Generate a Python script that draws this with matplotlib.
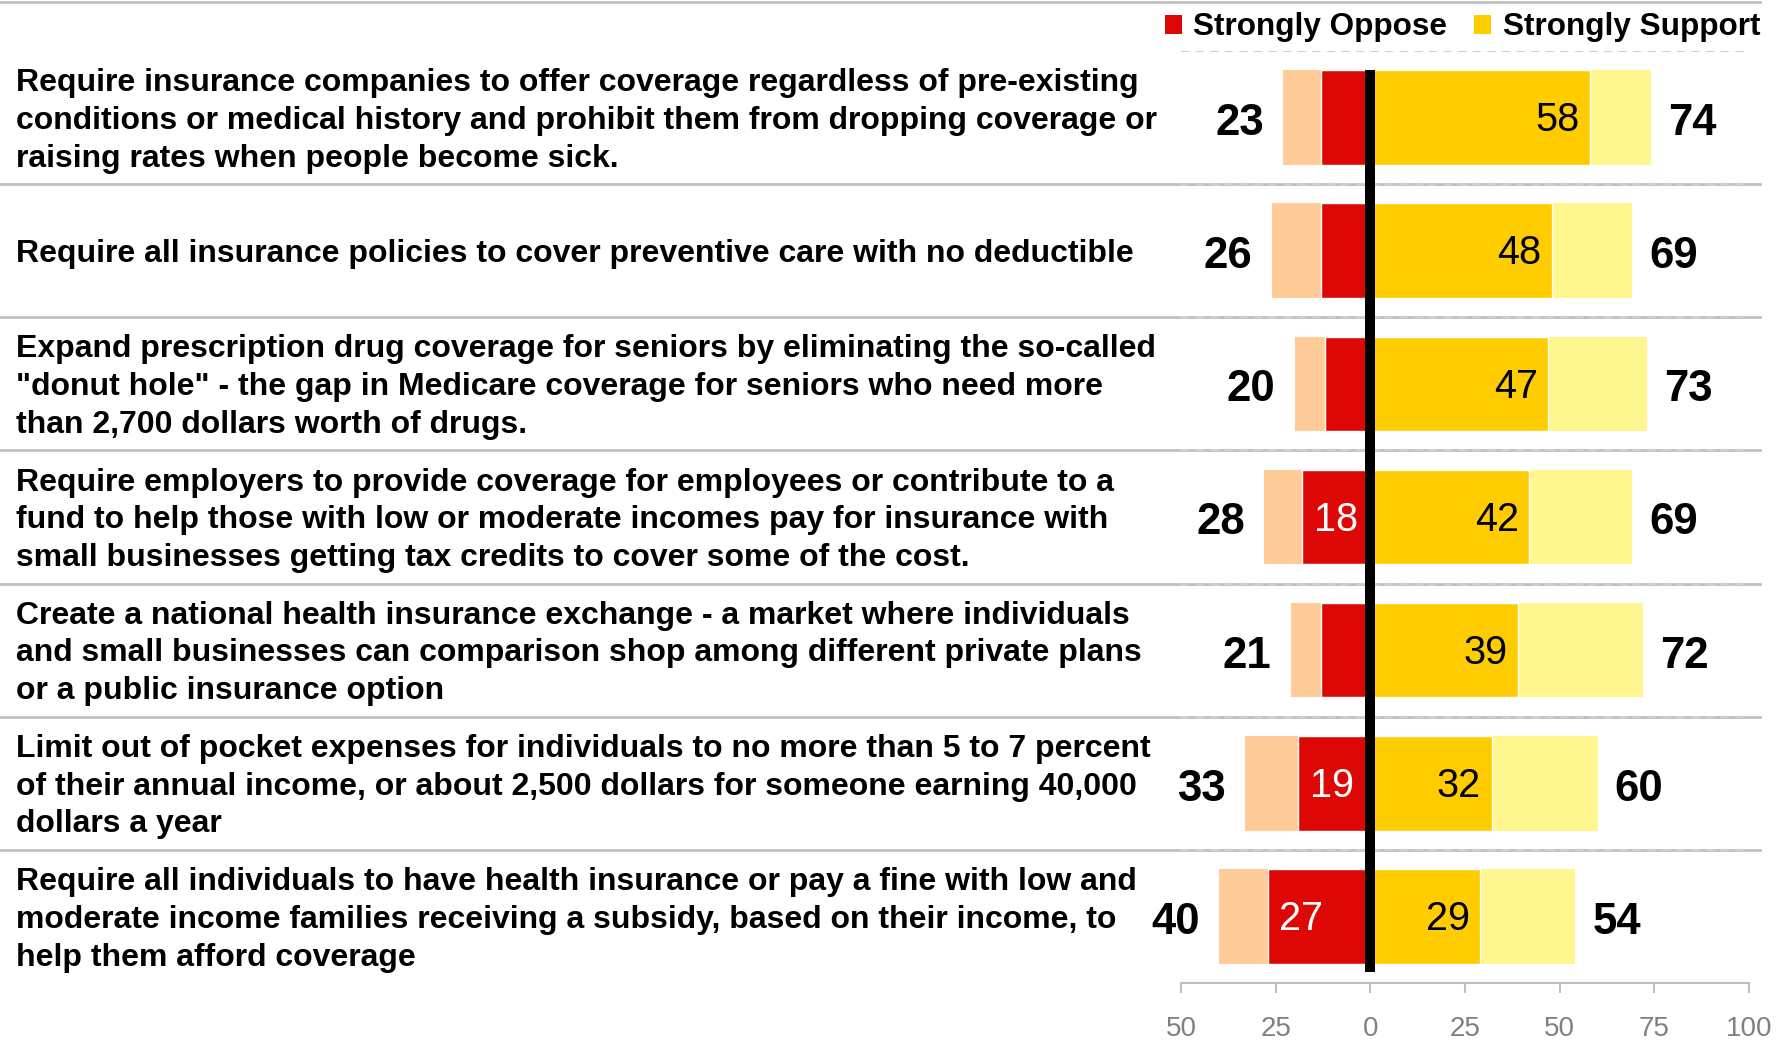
import matplotlib
matplotlib.use('Agg')
import matplotlib.pyplot as plt
import matplotlib.transforms as mtransforms
from matplotlib.patches import Patch

plt.rcParams['font.family'] = ['Liberation Sans', 'DejaVu Sans']

questions = [
    "Require insurance companies to offer coverage regardless of pre-existing\nconditions or medical history and prohibit them from dropping coverage or\nraising rates when people become sick.",
    "Require all insurance policies to cover preventive care with no deductible",
    "Expand prescription drug coverage for seniors by eliminating the so-called\n\"donut hole\" - the gap in Medicare coverage for seniors who need more\nthan 2,700 dollars worth of drugs.",
    "Require employers to provide coverage for employees or contribute to a\nfund to help those with low or moderate incomes pay for insurance with\nsmall businesses getting tax credits to cover some of the cost.",
    "Create a national health insurance exchange - a market where individuals\nand small businesses can comparison shop among different private plans\nor a public insurance option",
    "Limit out of pocket expenses for individuals to no more than 5 to 7 percent\nof their annual income, or about 2,500 dollars for someone earning 40,000\ndollars a year",
    "Require all individuals to have health insurance or pay a fine with low and\nmoderate income families receiving a subsidy, based on their income, to\nhelp them afford coverage",
]
oppose_total = [23, 26, 20, 28, 21, 33, 40]
oppose_strong = [13, 13, 12, 18, 13, 19, 27]
support_total = [74, 69, 73, 69, 72, 60, 54]
support_strong = [58, 48, 47, 42, 39, 32, 29]
xticks = [-50, -25, 0, 25, 50, 75, 100]
xticklabels = ['50', '25', '0', '25', '50', '75', '100']
legend_labels = ['Strongly Oppose', 'Strongly Support']

C_OPP_LIGHT = '#FFCC99'
C_OPP = '#DD0806'
C_SUP_LIGHT = '#FFF68F'
C_SUP = '#FFCC00'
GRAY = '#C0C0C0'

fig = plt.figure(figsize=(17.76, 10.40), dpi=100)
ax = fig.add_axes([1181/1776, 57/1040, (1749-1181)/1776, (983-51)/1040])

n = len(questions)
ypos = list(range(n))
h = 0.71
ax.barh(ypos, [-v for v in oppose_total], height=h, color=C_OPP_LIGHT, edgecolor='none', zorder=2)
ax.barh(ypos, [-v for v in oppose_strong], height=h, color=C_OPP, edgecolor='white', linewidth=1, zorder=3)
ax.barh(ypos, support_total, height=h, color=C_SUP_LIGHT, edgecolor='none', zorder=2)
ax.barh(ypos, support_strong, height=h, color=C_SUP, edgecolor='white', linewidth=1, zorder=3)

ax.set_xlim(-50, 100)
ax.set_ylim(n - 0.5, -0.5)

# zero line
ax.axvline(0, ymin=(n - 0.5 - 6.42) / n, ymax=(n - 0.5 + 0.355) / n, color='black', lw=7.2,
           solid_capstyle='butt', zorder=5)

# dashed grid at row boundaries
ax.set_yticks([i - 0.5 for i in range(n)], minor=True)
ax.set_yticks([])
ax.grid(axis='y', which='minor', color='#D0D0D0', linestyle=(0, (4, 3)), lw=1.5, zorder=1)
ax.tick_params(axis='y', which='both', left=False, labelleft=False)

# solid separators across figure
blend = mtransforms.blended_transform_factory(fig.transFigure, ax.transData)
for i in range(n - 1):
    ax.plot([0, 0.991], [i + 0.5, i + 0.5], transform=blend, color=GRAY, lw=2, clip_on=False, zorder=0)
fig.add_artist(plt.Line2D([0, 0.991], [1 - 1.5/1040, 1 - 1.5/1040], color=GRAY, lw=2))

# question labels
for i, q in enumerate(questions):
    ax.text(16/1776, i + 0.025, q, transform=blend, ha='left', va='center', fontsize=23,
            fontweight='bold', linespacing=1.34, color='black')

# numbers
for i in range(n):
    ax.text(-(oppose_total[i] + 11.5), i + 0.045, str(oppose_total[i]), ha='center', va='center',
            fontsize=31.5, fontweight='bold', color='black', zorder=6)
    ax.text(support_total[i] + 11, i + 0.045, str(support_total[i]), ha='center', va='center',
            fontsize=31.5, fontweight='bold', color='black', zorder=6)
    ax.text(support_strong[i] - 2.8, i + 0.02, str(support_strong[i]), ha='right', va='center',
            fontsize=28.5, color='black', zorder=6)
    if oppose_strong[i] >= 15:
        ax.text(-oppose_strong[i] + 3, i + 0.02, str(oppose_strong[i]), ha='left', va='center',
                fontsize=28.5, color='white', zorder=6)

for s in ['left', 'right', 'top']:
    ax.spines[s].set_visible(False)
ax.spines['bottom'].set_color('#BFBFBF')
ax.spines['bottom'].set_linewidth(1.5)
ax.set_xticks(xticks)
ax.set_xticklabels(xticklabels)
ax.tick_params(axis='x', direction='out', length=7, width=1.5, color='#BFBFBF',
               labelcolor='#808080', labelsize=20, pad=16.5)

handles = [Patch(facecolor=C_OPP, label=legend_labels[0]), Patch(facecolor=C_SUP, label=legend_labels[1])]
fig.legend(handles=handles, loc='upper right', bbox_to_anchor=(1760/1776, 0.988), ncol=2,
           frameon=False, prop={'weight': 'bold', 'size': 22.7}, handlelength=0.55,
           handleheight=0.55, handletextpad=0.35, columnspacing=0.85, borderpad=0,
           borderaxespad=0)

fig.savefig('out.png', dpi=100)
